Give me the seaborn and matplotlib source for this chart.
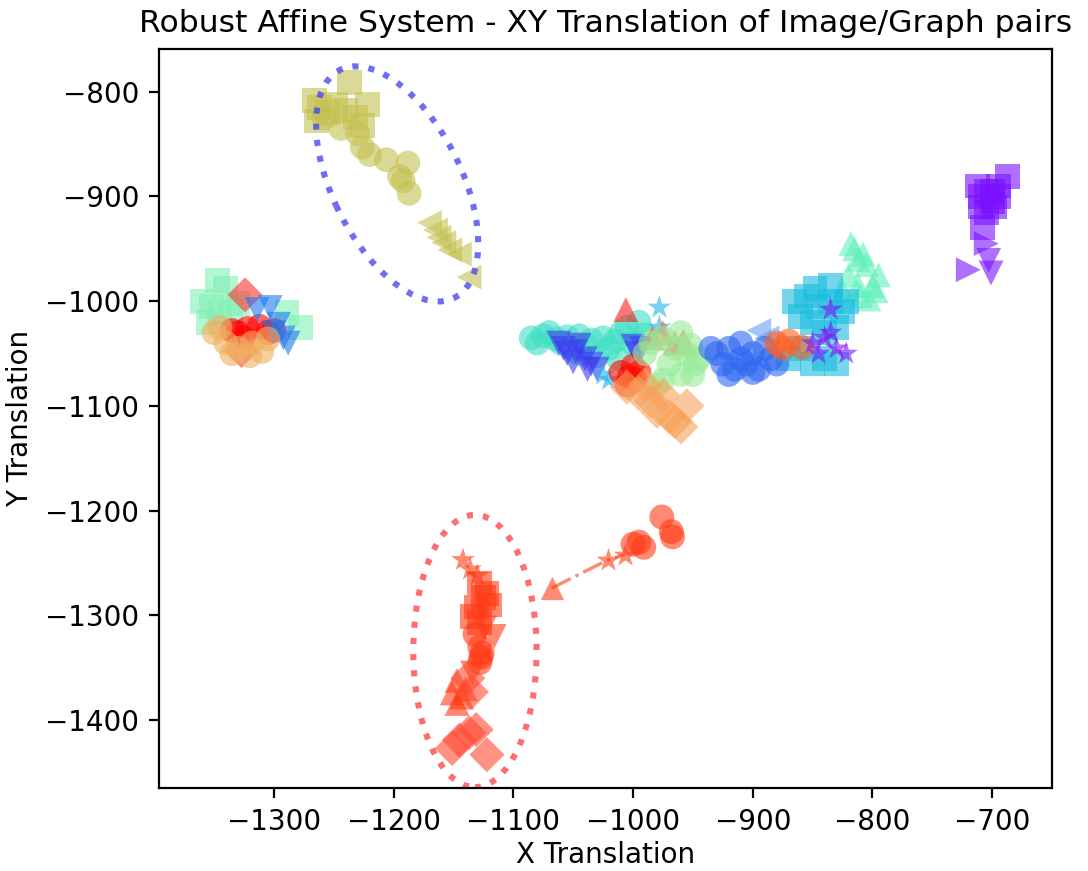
"""
Robust Affine System - XY translation scatter of image/graph pairs.
"""

import pandas as pd
import matplotlib
matplotlib.use("Agg")
import matplotlib.pyplot as plt
from matplotlib.patches import Ellipse
import seaborn as sns

# ---- data ----
olive_sq_x = [-1237, -1266, -1262, -1255, -1248, -1240, -1232, -1226, -1222, -1264]
olive_sq_y = [-791, -808, -815, -820, -812, -818, -825, -832, -812, -828]
olive_o_x = [-1258, -1244, -1230, -1226, -1220, -1206, -1188, -1195, -1187, -1192]
olive_o_y = [-825, -835, -840, -853, -860, -865, -868, -881, -897, -885]
olive_tri_x = [-1170, -1165, -1162, -1158, -1153, -1145, -1137]
olive_tri_y = [-925, -932, -939, -944, -951, -955, -977]

ell_star_x = [-1142, -1136, -1130]
ell_star_y = [-1247, -1256, -1262]
ell_sq_x = [-1128, -1122, -1120, -1131, -1134, -1128, -1125]
ell_sq_y = [-1269, -1279, -1290, -1292, -1301, -1307, -1283]
ell_v_x = [-1116, -1134, -1124]
ell_v_y = [-1320, -1355, -1312]
ell_o_x = [-1128, -1127, -1128, -1132, -1126]
ell_o_y = [-1330, -1340, -1345, -1318, -1336]
ell_tri_x = [-1147, -1151, -1147, -1140, -1143]
ell_tri_y = [-1362, -1374, -1384, -1370, -1378]
ell_d_x = [-1135, -1145, -1137, -1131, -1151, -1122, -1138]
ell_d_y = [-1373, -1419, -1412, -1409, -1427, -1433, -1360]

trail_x = [-1068, -1021, -1007]
trail_y = [-1274, -1247, -1242]
trail_o_x = [-995, -991, -976, -968, -967, -1000]
trail_o_y = [-1230, -1235, -1206, -1220, -1225, -1232]

left_mint_x = [-1347, -1340, -1360, -1352, -1345, -1336, -1289, -1278, -1355, -1330]
left_mint_y = [-980, -988, -1000, -1005, -1012, -1010, -1011, -1025, -1020, -1002]
left_red_x = [-1330, -1322, -1312, -1305, -1325, -1300, -1335]
left_red_y = [-1030, -1026, -1024, -1030, -1035, -1028, -1028]
left_red_d_x = [-1324, -1327]
left_red_d_y = [-994, -1047]
left_blue_x = [-1314, -1303, -1300, -1292, -1288, -1296]
left_blue_y = [-1008, -1006, -1030, -1035, -1040, -1022]
left_peach_x = [-1350, -1340, -1330, -1318, -1310, -1305, -1335, -1320, -1345]
left_peach_y = [-1030, -1040, -1045, -1040, -1048, -1036, -1050, -1052, -1025]

mid_aqua_x = [-1085, -1075, -1065, -1055, -1045, -1035, -1025, -1015, -1010,
              -1040, -1020, -1000, -990, -1030, -1050, -1080, -1070, -1060,
              -1005, -995, -1045, -1012]
mid_aqua_y = [-1035, -1033, -1036, -1034, -1033, -1037, -1035, -1038, -1030,
              -1042, -1045, -1040, -1032, -1052, -1045, -1040, -1030, -1040,
              -1025, -1020, -1050, -1055]
mid_deep_x = [-1055, -1048, -1040, -1035, -1030, -997, -1000, -993, -1058,
              -1062, -1045, -1050, -1038]
mid_deep_y = [-1050, -1048, -1055, -1060, -1065, -1050, -1043, -1045, -1045,
              -1040, -1042, -1058, -1065]
mid_cyan_x = [-978, -978, -1025, -1020]
mid_cyan_y = [-1006, -1025, -1070, -1075]
mid_red_x = [-1010, -1003, -998, -1005, -995, -1000]
mid_red_y = [-1068, -1072, -1075, -1080, -1068, -1062]
mid_red_tri_x = [-1006]
mid_red_tri_y = [-1008]
mid_or_tri_x = [-984, -975, -965, -958]
mid_or_tri_y = [-1035, -1030, -1040, -1038]
mid_green_x = [-985, -975, -965, -955, -948, -970, -960, -945, -980, -990, -952,
               -960, -950, -975]
mid_green_y = [-1040, -1035, -1045, -1050, -1060, -1060, -1070, -1055, -1080,
               -1050, -1042, -1030, -1070, -1075]
mid_peach_x = [-1005, -995, -985, -975, -965, -960, -955, -980, -970, -990]
mid_peach_y = [-1082, -1088, -1095, -1090, -1115, -1120, -1100, -1105, -1110, -1080]

right_mint_x = [-815, -805, -820, -800, -810, -825, -812, -795, -803, -818, -808,
                -797, -812]
right_mint_y = [-950, -965, -975, -985, -995, -990, -960, -975, -998, -945, -955,
                -990, -985]
right_cyan_x = [-865, -855, -845, -835, -825, -850, -840, -860, -870, -830, -848,
                -860, -850, -840, -830, -822, -835]
right_cyan_y = [-1000, -995, -1005, -1000, -1010, -1020, -1030, -1045, -1055,
                -1025, -988, -1015, -1060, -1055, -1060, -1000, -985]
right_lblue_x = [-895, -888]
right_lblue_y = [-1028, -1035]
right_blue_x = [-930, -920, -910, -900, -890, -915, -905, -885, -925, -895,
                -935, -920, -900, -880, -910]
right_blue_y = [-1050, -1045, -1055, -1050, -1045, -1065, -1060, -1055, -1060,
                -1065, -1045, -1070, -1068, -1060, -1040]
right_orange_x = [-880, -870, -875, -859]
right_orange_y = [-1040, -1038, -1045, -1044]
right_purple_x = [-850, -840, -830, -822, -845, -835, -835]
right_purple_y = [-1040, -1035, -1045, -1050, -1050, -1030, -1008]

top_purple_x = [-705, -700, -695, -710, -705, -687, -698, -708, -712, -700, -695,
                -710]
top_purple_y = [-895, -905, -890, -900, -915, -881, -910, -930, -890, -895, -900,
                -910]
top_tri_r_x = [-720, -705]
top_tri_r_y = [-970, -945]
top_tri_v_x = [-703, -701]
top_tri_v_y = [-961, -973]

# group -> (x, y, colour, marker)
groups = {
    "olive_sq": (olive_sq_x, olive_sq_y, "#c4c050", "s"),
    "olive_o": (olive_o_x, olive_o_y, "#c4c050", "o"),
    "olive_tri": (olive_tri_x, olive_tri_y, "#c4c050", "<"),
    "ell_star": (ell_star_x, ell_star_y, "#ff3a14", "*"),
    "ell_sq": (ell_sq_x, ell_sq_y, "#ff3a14", "s"),
    "ell_v": (ell_v_x, ell_v_y, "#ff3a14", "v"),
    "ell_o": (ell_o_x, ell_o_y, "#ff3a14", "o"),
    "ell_tri": (ell_tri_x, ell_tri_y, "#ff3a14", "^"),
    "ell_d": (ell_d_x, ell_d_y, "#ff4a30", "D"),
    "trail_o": (trail_o_x, trail_o_y, "#ff3a14", "o"),
    "left_mint": (left_mint_x, left_mint_y, "#80f0b4", "s"),
    "left_red": (left_red_x, left_red_y, "#ff0000", "o"),
    "left_red_d": (left_red_d_x, left_red_d_y, "#ff3030", "D"),
    "left_blue": (left_blue_x, left_blue_y, "#1e78f0", "v"),
    "left_peach": (left_peach_x, left_peach_y, "#f0b060", "o"),
    "mid_aqua": (mid_aqua_x, mid_aqua_y, "#40e0c4", "o"),
    "mid_deep": (mid_deep_x, mid_deep_y, "#3c3cf0", "v"),
    "mid_cyan": (mid_cyan_x, mid_cyan_y, "#20b4e8", "*"),
    "mid_red": (mid_red_x, mid_red_y, "#ff0a00", "o"),
    "mid_red_tri": (mid_red_tri_x, mid_red_tri_y, "#ff1e1e", "^"),
    "mid_or_tri": (mid_or_tri_x, mid_or_tri_y, "#ff5030", "^"),
    "mid_green": (mid_green_x, mid_green_y, "#98ec98", "o"),
    "mid_peach": (mid_peach_x, mid_peach_y, "#f8a058", "D"),
    "right_mint": (right_mint_x, right_mint_y, "#60f0b8", "^"),
    "right_cyan": (right_cyan_x, right_cyan_y, "#18bce0", "s"),
    "right_lblue": (right_lblue_x, right_lblue_y, "#6aa0f8", "<"),
    "right_blue": (right_blue_x, right_blue_y, "#2e68f0", "o"),
    "right_orange": (right_orange_x, right_orange_y, "#ff6020", "o"),
    "right_purple": (right_purple_x, right_purple_y, "#8010f8", "*"),
    "top_purple": (top_purple_x, top_purple_y, "#7a10ff", "s"),
    "top_tri_r": (top_tri_r_x, top_tri_r_y, "#7a10ff", ">"),
    "top_tri_v": (top_tri_v_x, top_tri_v_y, "#7a10ff", "v"),
}

rows = []
for name, (xs, ys, _, _) in groups.items():
    for x, y in zip(xs, ys):
        rows.append({"x": x, "y": y, "group": name})
df = pd.DataFrame(rows)
palette = {k: v[2] for k, v in groups.items()}
markers = {k: v[3] for k, v in groups.items()}

fig, ax = plt.subplots(figsize=(5.44, 4.355), dpi=200)
fig.subplots_adjust(left=0.146, right=0.967, top=0.944, bottom=0.095)

sns.scatterplot(data=df, x="x", y="y", hue="group", style="group",
                palette=palette, markers=markers, s=80, alpha=0.6,
                linewidth=0, legend=False, ax=ax)

# dash-dot trail from the triangle to the stars
trail = pd.DataFrame({"x": trail_x, "y": trail_y})
sns.lineplot(data=trail, x="x", y="y", sort=False, estimator=None,
             color="#ff3a14", alpha=0.6, linestyle="-.", linewidth=1.2, ax=ax)
sns.scatterplot(x=trail_x[:1], y=trail_y[:1], marker="^", s=70, color="#ff3a14",
                alpha=0.6, linewidth=0, ax=ax)
sns.scatterplot(x=trail_x[1:], y=trail_y[1:], marker="*", s=80, color="#ff3a14",
                alpha=0.6, linewidth=0, ax=ax)

# highlighted clusters
ax.add_patch(Ellipse((-1197, -888), width=238, height=110, angle=-68,
                     fill=False, edgecolor="#4a4af0", linestyle=":",
                     linewidth=2.2, alpha=0.8))
ax.add_patch(Ellipse((-1132, -1334), width=103, height=260, angle=0,
                     fill=False, edgecolor="#ff4a4a", linestyle=":",
                     linewidth=2.2, alpha=0.8))

ax.set_xlim(-1396, -650)
ax.set_ylim(-1465, -759)
ax.set_xticks(range(-1300, -600, 100))
ax.set_yticks(range(-1400, -700, 100))
ax.set_xlabel("X Translation", labelpad=2)
ax.set_ylabel("Y Translation")
ax.set_title("Robust Affine System - XY Translation of Image/Graph pairs",
             fontsize=11.3)

fig.savefig("out.png", dpi=200)
